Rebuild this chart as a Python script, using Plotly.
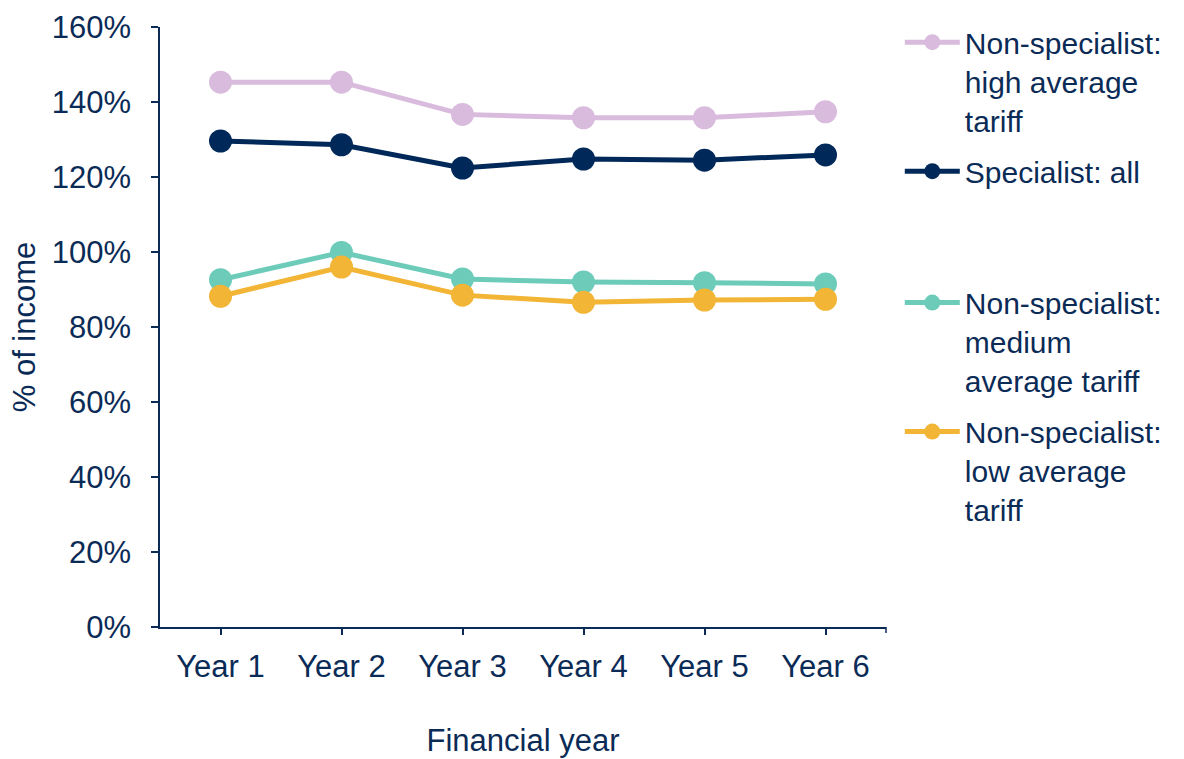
import plotly.graph_objects as go

# Financial years on the category axis
years = ["Year 1", "Year 2", "Year 3", "Year 4", "Year 5", "Year 6"]

# Share of income (%) by provider group
high_tariff = [145.3, 145.3, 136.7, 135.8, 135.8, 137.4]
specialist_all = [129.6, 128.6, 122.4, 124.8, 124.5, 125.9]
medium_tariff = [92.6, 99.9, 92.8, 92.0, 91.8, 91.5]
low_tariff = [88.2, 96.0, 88.5, 86.6, 87.2, 87.4]

series = [
    ("Non-specialist:<br>high average<br>tariff", high_tariff, "#D9BBDD", "legend"),
    ("Specialist: all", specialist_all, "#002858", "legend"),
    ("Non-specialist:<br>medium<br>average tariff", medium_tariff, "#6DCBBA", "legend2"),
    ("Non-specialist:<br>low average<br>tariff", low_tariff, "#F2B536", "legend2"),
]

TEXT = "#0B2B57"
FONT = "Liberation Sans, Arial, sans-serif"
SIZE = 31

fig = go.Figure()
for i, (name, vals, color, leg) in enumerate(series):
    fig.add_trace(go.Scatter(
        x=list(range(len(years))), y=vals, name=name,
        mode="lines+markers",
        line=dict(color=color, width=5),
        marker=dict(color=color, size=23),
        legend=leg, legendgroup=f"g{i}",
    ))

legend_common = dict(
    font=dict(family=FONT, size=30, color=TEXT),
    bgcolor="rgba(0,0,0,0)", borderwidth=0,
    xanchor="left", yanchor="top", valign="top",
    tracegroupgap=9, itemwidth=55, itemclick=False,
)

fig.update_layout(
    width=1184, height=759,
    margin=dict(l=160, r=298, t=27, b=132),
    paper_bgcolor="white", plot_bgcolor="white",
    font=dict(family=FONT, size=SIZE, color=TEXT),
    showlegend=True,
    legend=dict(x=1.019, y=1.018, **legend_common),
    legend2=dict(x=1.019, y=0.584, **legend_common),
    xaxis=dict(
        range=[-0.5, 5.5], automargin=False,
        tickmode="array", tickvals=list(range(len(years))), ticktext=years,
        showgrid=False, zeroline=False,
        showline=True, linecolor=TEXT, linewidth=1.5,
        ticks="outside", ticklen=6, tickwidth=1.5, tickcolor=TEXT,
        ticklabelstandoff=5,
        tickfont=dict(family=FONT, size=SIZE, color=TEXT),
        title=dict(text="Financial year", standoff=46,
                   font=dict(family=FONT, size=SIZE, color=TEXT)),
    ),
    yaxis=dict(
        range=[0, 160], dtick=20, ticksuffix="%", automargin=False,
        showgrid=False, zeroline=False,
        showline=True, linecolor=TEXT, linewidth=1.5,
        ticks="outside", ticklen=7, tickwidth=1.5, tickcolor=TEXT,
        ticklabelstandoff=14,
        tickfont=dict(family=FONT, size=SIZE, color=TEXT),
        title=dict(text="% of income", standoff=7,
                   font=dict(family=FONT, size=SIZE, color=TEXT)),
    ),
)

# closing tick at the right end of the category axis
fig.add_shape(type="line", xref="paper", yref="paper",
              x0=1, x1=1, y0=0, y1=-0.01,
              line=dict(color=TEXT, width=1.5))

fig.write_html("out.html")
